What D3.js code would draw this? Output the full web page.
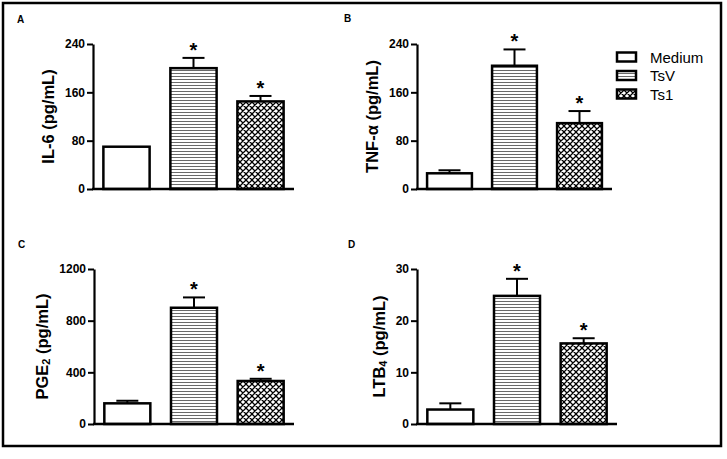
<!DOCTYPE html>
<html><head><meta charset="utf-8">
<script src="https://cdn.jsdelivr.net/npm/d3@7"></script>
<style>
html,body{margin:0;padding:0;background:#fff;}
svg{display:block;font-family:"Liberation Sans",Arial,sans-serif;}
</style></head>
<body>
<svg id="chart" width="727" height="459"></svg>
<script>
// ---- data ----
const groups = ["Medium", "TsV", "Ts1"];
const significant = [false, true, true];

const il6 = [70, 200, 145];
const il6Err = [0, 17, 9];
const il6Ticks = [0, 80, 160, 240];

const tnf = [26, 204, 109];
const tnfErr = [5, 27, 20];
const tnfTicks = [0, 80, 160, 240];

const pge2 = [160, 900, 333];
const pge2Err = [20, 80, 17];
const pge2Ticks = [0, 400, 800, 1200];

const ltb4 = [2.8, 24.8, 15.6];
const ltb4Err = [1.2, 3.3, 1.0];
const ltb4Ticks = [0, 10, 20, 30];

// ---- layout ----
const panels = [
  {letter:"A", lx:17, ly:23, values:il6, errs:il6Err, ticks:il6Ticks, label:["IL-6 (pg/mL)"], ax:93, xEnd:294, yTop:44, yBot:189},
  {letter:"B", lx:344, ly:22, values:tnf, errs:tnfErr, ticks:tnfTicks, label:["TNF-α (pg/mL)"], ax:417, xEnd:612, yTop:44, yBot:189},
  {letter:"C", lx:18, ly:248, values:pge2, errs:pge2Err, ticks:pge2Ticks, label:["PGE","2"," (pg/mL)"], ax:94, xEnd:294, yTop:269, yBot:424},
  {letter:"D", lx:348, ly:248, values:ltb4, errs:ltb4Err, ticks:ltb4Ticks, label:["LTB","4"," (pg/mL)"], ax:417, xEnd:617, yTop:269, yBot:424}
];

const svg = d3.select("#chart");
const defs = svg.append("defs");

// horizontal line pattern
const ph = defs.append("pattern").attr("id","hlines").attr("patternUnits","userSpaceOnUse")
  .attr("width",4).attr("height",3);
ph.append("rect").attr("width",4).attr("height",3).attr("fill","#fff");
ph.append("line").attr("x1",0).attr("x2",4).attr("y1",1.5).attr("y2",1.5)
  .attr("stroke","#6a6a6a").attr("stroke-width",1);

// cross-hatch pattern
const pc = defs.append("pattern").attr("id","cross").attr("patternUnits","userSpaceOnUse")
  .attr("width",6).attr("height",6);
pc.append("rect").attr("width",6).attr("height",6).attr("fill","#fff");
pc.append("path").attr("d","M0,0L6,6M6,0L0,6M-1,5L1,7M5,-1L7,1M-1,1L1,-1M5,7L7,5")
  .attr("stroke","#000").attr("stroke-width",1.25);

const fills = ["#fff", "url(#hlines)", "url(#cross)"];

// outer frame
svg.append("rect").attr("x",3).attr("y",3).attr("width",718).attr("height",443)
  .attr("fill","none").attr("stroke","#000").attr("stroke-width",2.5);

panels.forEach(p => {
  const g = svg.append("g");
  const x = d3.scaleBand().domain(groups).range([p.ax, p.xEnd])
    .paddingInner(0.31).paddingOuter(0.155);
  const y = d3.scaleLinear().domain([0, p.ticks[p.ticks.length-1]]).range([p.yBot, p.yTop]);

  // panel letter
  g.append("text").attr("x",p.lx).attr("y",p.ly).attr("font-size",10).attr("font-weight","bold")
    .text(p.letter);

  // y axis
  const yAxis = g.append("g").attr("transform",`translate(${p.ax},0)`)
    .call(d3.axisLeft(y).tickValues(p.ticks).tickFormat(d3.format("d"))
      .tickSize(6).tickSizeOuter(0).tickPadding(2));
  yAxis.select(".domain").attr("stroke","#000").attr("stroke-width",2.2);
  yAxis.selectAll(".tick line").attr("stroke","#000").attr("stroke-width",2);
  yAxis.selectAll(".tick text").attr("font-size",12).attr("font-weight","bold")
    .attr("font-family","'Liberation Sans',Arial,sans-serif").attr("fill","#000");

  // bars
  g.selectAll("rect.bar").data(p.values).enter().append("rect")
    .attr("class","bar")
    .attr("x",(d,i)=>x(groups[i]))
    .attr("width",x.bandwidth())
    .attr("y",d=>y(d))
    .attr("height",d=>y(0)-y(d))
    .attr("fill",(d,i)=>fills[i])
    .attr("stroke","#000").attr("stroke-width",2.5);

  // error bars (upper)
  p.values.forEach((v,i)=>{
    const e = p.errs[i];
    if (e <= 0) return;
    const cx = x(groups[i]) + x.bandwidth()/2;
    g.append("line").attr("x1",cx).attr("x2",cx).attr("y1",y(v)).attr("y2",y(v+e))
      .attr("stroke","#000").attr("stroke-width",2);
    g.append("line").attr("x1",cx-11).attr("x2",cx+11).attr("y1",y(v+e)).attr("y2",y(v+e))
      .attr("stroke","#000").attr("stroke-width",2);
  });

  // significance asterisks
  p.values.forEach((v,i)=>{
    if (!significant[i]) return;
    const cx = x(groups[i]) + x.bandwidth()/2;
    g.append("text").attr("x",cx).attr("y",y(v+p.errs[i]) - 1)
      .attr("text-anchor","middle").attr("font-size",20).attr("font-weight","bold").text("*");
  });

  // x axis line
  g.append("line").attr("x1",p.ax-1).attr("x2",p.xEnd).attr("y1",y(0)).attr("y2",y(0))
    .attr("stroke","#000").attr("stroke-width",2.5);

  // y label
  const bb = yAxis.node().getBBox();
  const lx = p.ax + bb.x - 17;
  const ly = (p.yTop + p.yBot)/2;
  const t = g.append("text").attr("transform",`translate(${lx},${ly}) rotate(-90)`)
    .attr("text-anchor","middle").attr("dominant-baseline","central")
    .attr("font-size",16.5).attr("font-weight","bold");
  if (p.label.length === 1) {
    t.text(p.label[0]);
  } else {
    t.append("tspan").text(p.label[0]);
    t.append("tspan").attr("font-size",11).attr("dy",4).text(p.label[1]);
    t.append("tspan").attr("dy",-4).text(p.label[2]);
  }
});

// legend
const legend = svg.append("g");
const legY = d3.scalePoint().domain(groups).range([57, 94]);
groups.forEach((gname,i)=>{
  legend.append("rect").attr("x",617).attr("y",legY(gname)-4.5).attr("width",19).attr("height",9)
    .attr("fill",fills[i]).attr("stroke","#000").attr("stroke-width",2.5);
  legend.append("text").attr("x",650).attr("y",legY(gname)).attr("dominant-baseline","central")
    .attr("font-size",15).text(gname);
});
</script>
</body></html>
